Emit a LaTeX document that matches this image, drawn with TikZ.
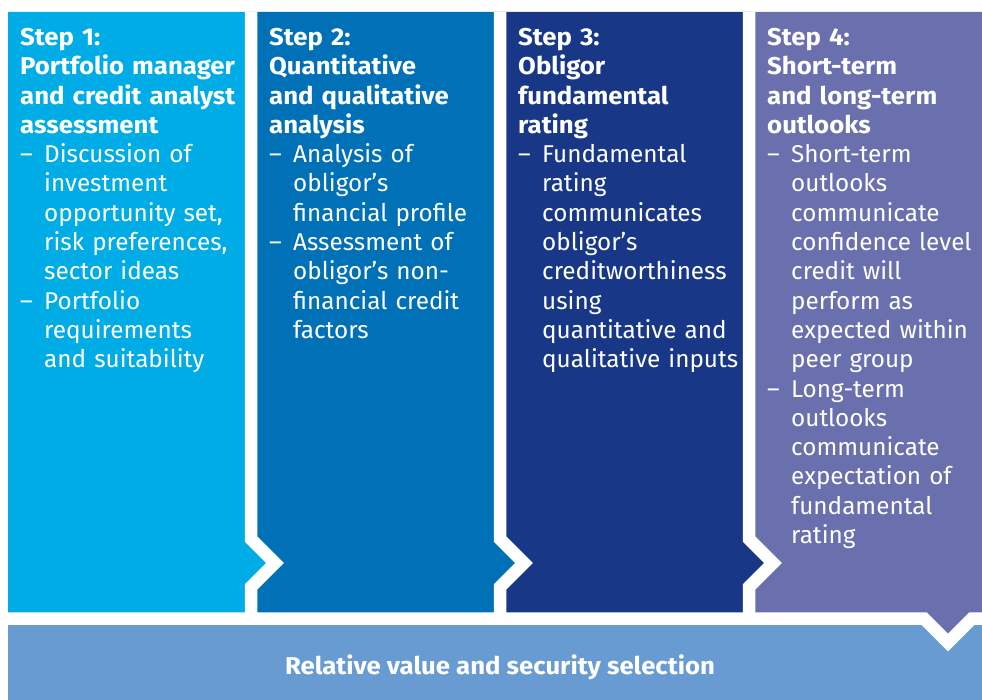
\documentclass[tikz,border=0pt]{standalone}
\usepackage{fontspec}
\setmainfont{Fira Sans}[BoldFeatures={FakeStretch=1.06}]
\usepackage{tikz}
\usetikzlibrary{positioning}

\definecolor{stepone}{RGB}{0,172,230}
\definecolor{steptwo}{RGB}{0,112,183}
\definecolor{stepthree}{RGB}{24,56,135}
\definecolor{stepfour}{RGB}{106,111,173}
\definecolor{barblue}{RGB}{104,155,210}

% dash hung to the left, the bullet's lines indented after it
\newcommand{\bul}{\par\leftskip=24pt\noindent\llap{\makebox[24pt][l]{--}}}

\begin{document}
\begin{tikzpicture}[x=1pt, y=-1pt,
    steptext/.style={anchor=north west, inner sep=0pt, text=white, text width=235pt, align=left, font=\fontsize{24.3}{29.3}\selectfont},
    gap/.style={draw=white, line width=12.5pt, miter limit=10}
]
    \useasboundingbox (0,0) rectangle (982,700);

    % bar and columns, back to front
    \fill[barblue] (8,618.5) rectangle (982,700);
    \fill[stepfour] (749,12) -- (982,12) -- (982,618.5) -- (972,618.5) -- (948,642.5) -- (924,618.5) -- (749,618.5) -- cycle;
    \fill[stepthree] (500,12) -- (749,12) -- (749,539) -- (773,563) -- (749,587) -- (749,618.5) -- (500,618.5) -- cycle;
    \fill[steptwo] (251,12) -- (500,12) -- (500,539) -- (524,563) -- (500,587) -- (500,618.5) -- (251,618.5) -- cycle;
    \fill[stepone] (8,12) -- (251,12) -- (251,539) -- (275,563) -- (251,587) -- (251,618.5) -- (8,618.5) -- cycle;

    % white gaps
    \foreach \sx in {251,500,749}
        \draw[gap] (\sx,12) -- (\sx,539) -- (\sx+24,563) -- (\sx,587) -- (\sx,618.5);
    \draw[gap] (8,618.5) -- (924,618.5) -- (948,642.5) -- (972,618.5) -- (982,618.5);

    \node[steptext] (s1) at (20,28) {\textbf{Step 1:\\ Portfolio manager\\ and credit analyst\\ assessment}
        \bul Discussion of\\ investment\\ opportunity set,\\ risk preferences,\\ sector ideas
        \bul Portfolio\\ requirements\\ and suitability\par};
    \node[steptext] (s2) at (269,28) {\textbf{Step 2:\\ Quantitative\\ and qualitative\\ analysis}
        \bul Analysis of\\ obligor’s\\ financial profile
        \bul Assessment of\\ obligor’s non-\\ financial credit\\ factors\par};
    \node[steptext] (s3) at (518,28) {\textbf{Step 3:\\ Obligor\\ fundamental\\ rating}
        \bul Fundamental\\ rating\\ communicates\\ obligor’s\\ creditworthiness\\ using\\ quantitative and\\ qualitative inputs\par};
    \node[steptext] (s4) at (767,28) {\textbf{Step 4:\\ Short-term\\ and long-term\\ outlooks}
        \bul Short-term\\ outlooks\\ communicate\\ confidence level\\ credit will\\ perform as\\ expected within\\ peer group
        \bul Long-term\\ outlooks\\ communicate\\ expectation of\\ fundamental\\ rating\par};

    \node[text=white, font=\fontsize{24.3}{29.3}\selectfont\bfseries] (sel) at (500,667) {Relative value and security selection};
\end{tikzpicture}
\end{document}
